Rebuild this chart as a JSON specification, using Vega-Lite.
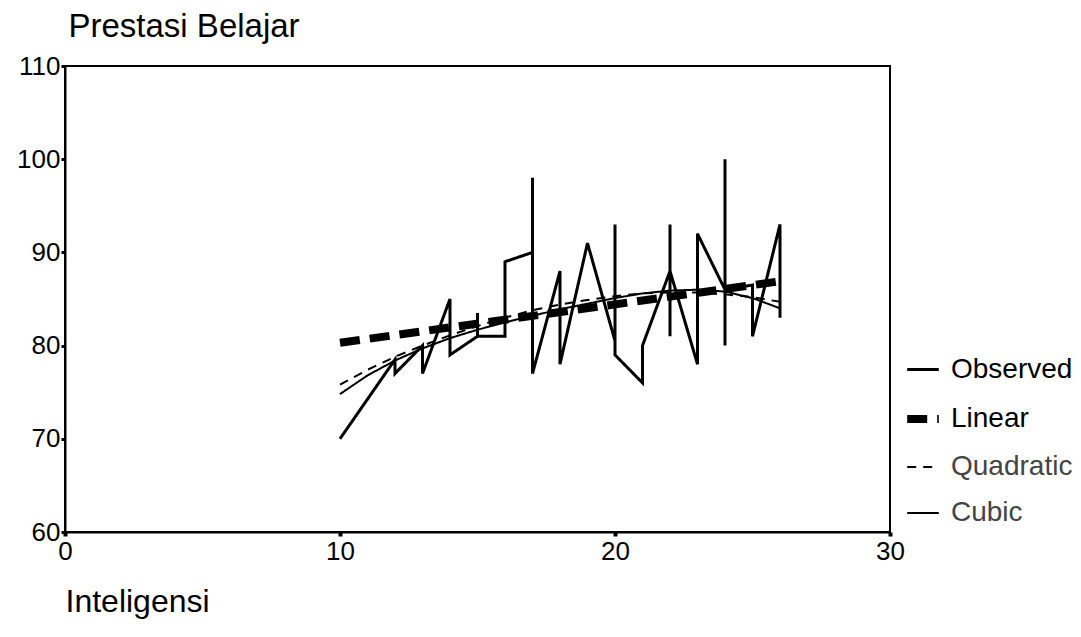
{
  "$schema": "https://vega.github.io/schema/vega-lite/v6.json",
  "width": 825,
  "height": 466,
  "autosize": {"type": "none"},
  "padding": {"left": 65, "top": 66, "right": 191, "bottom": 105},
  "background": "white",
  "config": {
    "font": "Liberation Sans",
    "view": {"stroke": "black", "strokeWidth": 2},
    "axis": {"grid": false, "domainColor": "black", "domainWidth": 2, "tickColor": "black", "labelColor": "black", "titleColor": "black", "labelFont": "Liberation Sans", "titleFont": "Liberation Sans", "titleFontWeight": "normal"}
  },
  "datasets": {
    "pts": [
      {"series": "Observed", "order": 1, "x": 10, "y": 70},
      {"series": "Observed", "order": 2, "x": 12, "y": 78.5},
      {"series": "Observed", "order": 3, "x": 12, "y": 77},
      {"series": "Observed", "order": 4, "x": 13, "y": 80},
      {"series": "Observed", "order": 5, "x": 13, "y": 77},
      {"series": "Observed", "order": 6, "x": 14, "y": 85},
      {"series": "Observed", "order": 7, "x": 14, "y": 79},
      {"series": "Observed", "order": 8, "x": 15, "y": 81},
      {"series": "Observed", "order": 9, "x": 15, "y": 83.5},
      {"series": "Observed", "order": 10, "x": 15, "y": 81},
      {"series": "Observed", "order": 11, "x": 16, "y": 81},
      {"series": "Observed", "order": 12, "x": 16, "y": 89},
      {"series": "Observed", "order": 13, "x": 17, "y": 90},
      {"series": "Observed", "order": 14, "x": 17, "y": 98},
      {"series": "Observed", "order": 15, "x": 17, "y": 77},
      {"series": "Observed", "order": 16, "x": 18, "y": 88},
      {"series": "Observed", "order": 17, "x": 18, "y": 78},
      {"series": "Observed", "order": 18, "x": 19, "y": 91},
      {"series": "Observed", "order": 19, "x": 20, "y": 80.5},
      {"series": "Observed", "order": 20, "x": 20, "y": 93},
      {"series": "Observed", "order": 21, "x": 20, "y": 79},
      {"series": "Observed", "order": 22, "x": 21, "y": 76},
      {"series": "Observed", "order": 23, "x": 21, "y": 80},
      {"series": "Observed", "order": 24, "x": 22, "y": 88},
      {"series": "Observed", "order": 25, "x": 22, "y": 93},
      {"series": "Observed", "order": 26, "x": 22, "y": 81},
      {"series": "Observed", "order": 27, "x": 22, "y": 88},
      {"series": "Observed", "order": 28, "x": 23, "y": 78},
      {"series": "Observed", "order": 29, "x": 23, "y": 92},
      {"series": "Observed", "order": 30, "x": 24, "y": 86},
      {"series": "Observed", "order": 31, "x": 24, "y": 100},
      {"series": "Observed", "order": 32, "x": 24, "y": 80},
      {"series": "Observed", "order": 33, "x": 24, "y": 86},
      {"series": "Observed", "order": 34, "x": 25, "y": 86.5},
      {"series": "Observed", "order": 35, "x": 25, "y": 81},
      {"series": "Observed", "order": 36, "x": 26, "y": 93},
      {"series": "Observed", "order": 37, "x": 26, "y": 83},
      {"series": "Linear", "order": 1, "x": 10, "y": 80.3},
      {"series": "Linear", "order": 2, "x": 26, "y": 86.9},
      {"series": "Quadratic", "order": 1, "x": 10, "y": 75.8},
      {"series": "Quadratic", "order": 2, "x": 11, "y": 77.4},
      {"series": "Quadratic", "order": 3, "x": 12, "y": 78.8},
      {"series": "Quadratic", "order": 4, "x": 13, "y": 80.0},
      {"series": "Quadratic", "order": 5, "x": 14, "y": 81.1},
      {"series": "Quadratic", "order": 6, "x": 15, "y": 82.1},
      {"series": "Quadratic", "order": 7, "x": 16, "y": 83.0},
      {"series": "Quadratic", "order": 8, "x": 17, "y": 83.8},
      {"series": "Quadratic", "order": 9, "x": 18, "y": 84.4},
      {"series": "Quadratic", "order": 10, "x": 19, "y": 84.9},
      {"series": "Quadratic", "order": 11, "x": 20, "y": 85.3},
      {"series": "Quadratic", "order": 12, "x": 21, "y": 85.6},
      {"series": "Quadratic", "order": 13, "x": 22, "y": 85.7},
      {"series": "Quadratic", "order": 14, "x": 23, "y": 85.7},
      {"series": "Quadratic", "order": 15, "x": 24, "y": 85.5},
      {"series": "Quadratic", "order": 16, "x": 25, "y": 85.2},
      {"series": "Quadratic", "order": 17, "x": 26, "y": 84.7},
      {"series": "Cubic", "order": 1, "x": 10, "y": 74.8},
      {"series": "Cubic", "order": 2, "x": 11, "y": 76.8},
      {"series": "Cubic", "order": 3, "x": 12, "y": 78.4},
      {"series": "Cubic", "order": 4, "x": 13, "y": 79.7},
      {"series": "Cubic", "order": 5, "x": 14, "y": 80.8},
      {"series": "Cubic", "order": 6, "x": 15, "y": 81.7},
      {"series": "Cubic", "order": 7, "x": 16, "y": 82.5},
      {"series": "Cubic", "order": 8, "x": 17, "y": 83.2},
      {"series": "Cubic", "order": 9, "x": 18, "y": 83.9},
      {"series": "Cubic", "order": 10, "x": 19, "y": 84.5},
      {"series": "Cubic", "order": 11, "x": 20, "y": 85.1},
      {"series": "Cubic", "order": 12, "x": 21, "y": 85.6},
      {"series": "Cubic", "order": 13, "x": 22, "y": 85.9},
      {"series": "Cubic", "order": 14, "x": 23, "y": 86.0},
      {"series": "Cubic", "order": 15, "x": 24, "y": 85.8},
      {"series": "Cubic", "order": 16, "x": 25, "y": 85.1},
      {"series": "Cubic", "order": 17, "x": 26, "y": 84.0}
    ]
  },
  "data": {"name": "pts"},
  "mark": {"type": "line", "color": "black", "strokeCap": "butt", "strokeJoin": "miter"},
  "encoding": {
    "x": {
      "field": "x", "type": "quantitative",
      "scale": {"domain": [0, 30], "nice": false, "zero": false},
      "axis": {
        "values": [0, 10, 20, 30], "title": "Inteligensi", "titleFontSize": 32,
        "titleAnchor": "start", "titleAlign": "left", "titleX": 0, "titleY": 79, "titleBaseline": "alphabetic",
        "labelFontSize": 26, "labelPadding": 2, "tickSize": 4, "tickWidth": 4, "labelFlush": false
      }
    },
    "y": {
      "field": "y", "type": "quantitative",
      "scale": {"domain": [60, 110], "nice": false, "zero": false},
      "axis": {
        "values": [60, 70, 80, 90, 100, 110], "title": "Prestasi Belajar", "titleFontSize": 33,
        "titleAngle": 0, "titleAlign": "left", "titleBaseline": "alphabetic", "titleX": 3, "titleY": -30,
        "labelFontSize": 26, "labelPadding": 1, "tickSize": 4, "tickWidth": 3, "labelFlush": false,
        "encode": {"labels": {"update": {"baseline": {"signal": "datum.value === 60 ? 'bottom' : 'middle'"}}}}
      }
    },
    "order": {"field": "order", "type": "quantitative"},
    "strokeDash": {
      "field": "series", "type": "nominal",
      "scale": {"domain": ["Observed", "Linear", "Quadratic", "Cubic"], "range": [[1, 0], [20, 10], [9, 7], [1, 0]]},
      "legend": {
        "title": null, "orient": "none", "legendX": 838, "legendY": 286,
        "labelFontSize": 28, "labelFont": "Liberation Sans", "labelColor": "black",
        "symbolType": "stroke", "symbolSize": 1000, "symbolStrokeColor": "black",
        "rowPadding": 15, "labelOffset": 8,
        "encode": {"labels": {"update": {"fill": {"signal": "datum.label === 'Quadratic' || datum.label === 'Cubic' ? '#444' : '#000'"}}}}
      }
    },
    "strokeWidth": {
      "field": "series", "type": "nominal",
      "scale": {"type": "ordinal", "domain": ["Observed", "Linear", "Quadratic", "Cubic"], "range": [3, 8, 2, 2]},
      "legend": {
        "title": null, "orient": "none", "legendX": 838, "legendY": 286,
        "labelFontSize": 28, "labelFont": "Liberation Sans", "labelColor": "black",
        "symbolType": "stroke", "symbolSize": 1000, "symbolStrokeColor": "black",
        "rowPadding": 15, "labelOffset": 8,
        "encode": {"labels": {"update": {"fill": {"signal": "datum.label === 'Quadratic' || datum.label === 'Cubic' ? '#444' : '#000'"}}}}
      }
    }
  }
}
